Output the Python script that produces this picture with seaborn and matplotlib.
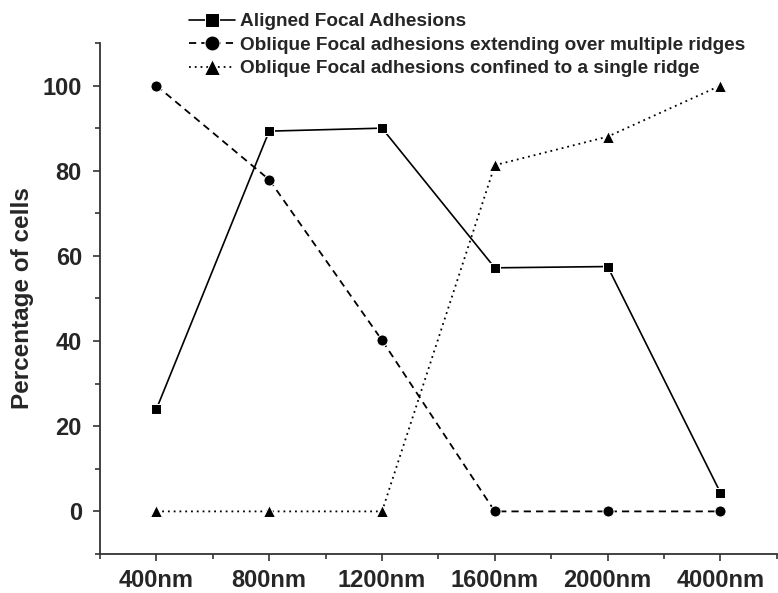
import matplotlib
matplotlib.use("Agg")
import matplotlib.pyplot as plt
import seaborn as sns
from matplotlib.ticker import MultipleLocator

sns.set_style("ticks")
plt.rcParams['font.family'] = ['Liberation Sans', 'DejaVu Sans']
plt.rcParams['font.weight'] = 'bold'

# Data
widths = ["400nm", "800nm", "1200nm", "1600nm", "2000nm", "4000nm"]
aligned = [24, 89.3, 90, 57.2, 57.5, 4.4]
oblique_multi = [100, 77.9, 40.2, 0, 0, 0]
oblique_single = [0, 0, 0, 81.3, 88, 100]

labels = [
    "Aligned Focal Adhesions",
    "Oblique Focal adhesions extending over multiple ridges",
    "Oblique Focal adhesions confined to a single ridge",
]

fig = plt.figure(figsize=(7.78, 5.93), dpi=100)
ax = fig.add_axes([0.1285, 0.0658, 0.870, 0.8617])

pos = list(range(len(widths)))

sns.lineplot(x=pos, y=aligned, ax=ax, color="black", marker="s",
             markersize=7, linewidth=1.2, linestyle="-", label=labels[0])
sns.lineplot(x=pos, y=oblique_multi, ax=ax, color="black", marker="o",
             markersize=8, linewidth=1.3, linestyle=(0, (4, 2.8)), label=labels[1])
sns.lineplot(x=pos, y=oblique_single, ax=ax, color="black", marker="^",
             markersize=9, linewidth=1.3, linestyle=(0, (1, 2.2)), label=labels[2])

ax.set_xlim(-0.5, 5.5)
ax.set_ylim(-10, 110)
ax.set_xticks(pos)
ax.set_xticklabels(widths, fontsize=17, fontweight="bold")
ax.set_xticks([p + 0.5 for p in pos[:-1]] + [-0.5, 5.5], minor=True)
ax.yaxis.set_minor_locator(MultipleLocator(10))
ax.set_yticks([0, 20, 40, 60, 80, 100])
for t in ax.get_yticklabels():
    t.set_fontsize(17)
    t.set_fontweight("bold")

ax.tick_params(which="major", direction="out", length=5, width=1.2, color="#333333", pad=8)
ax.tick_params(axis="x", which="major", pad=6)
ax.tick_params(which="minor", direction="out", length=3.5, width=1.2, color="#333333")

ax.set_ylabel("Percentage of cells", fontsize=17.5, fontweight="bold", labelpad=6)
ax.set_xlabel("")

sns.despine(ax=ax)
for s in ["left", "bottom"]:
    ax.spines[s].set_linewidth(1.3)
    ax.spines[s].set_color("#333333")

ax.get_legend().remove()
handles, lbls = ax.get_legend_handles_labels()
fig.legend(handles, lbls, loc="upper left", bbox_to_anchor=(0.243, 0.978),
           frameon=False, prop={"weight": "bold", "size": 13.7},
           handlelength=2.4, handletextpad=0.3, labelspacing=0.32,
           borderpad=0, borderaxespad=0, markerscale=1.35)

fig.savefig("out.png", dpi=100)
